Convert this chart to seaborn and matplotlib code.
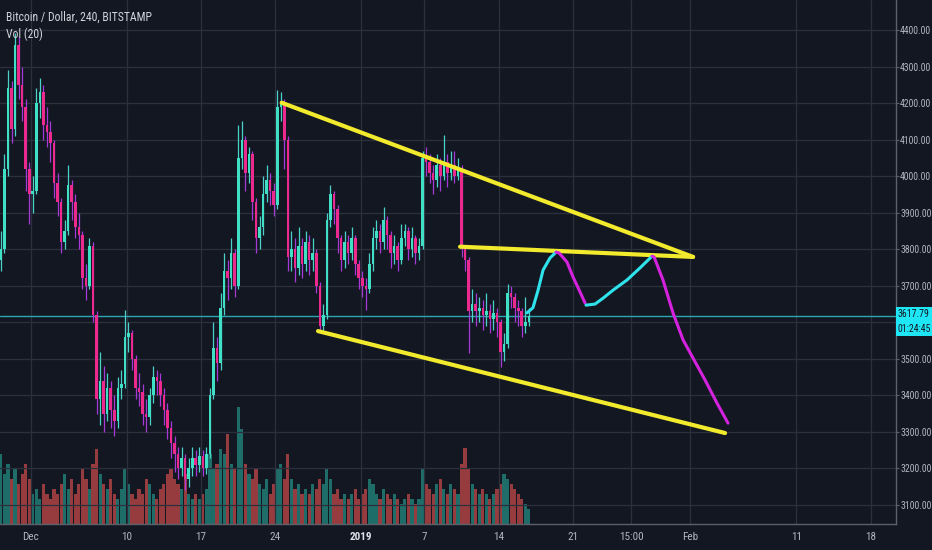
import numpy as np
import pandas as pd
import matplotlib
matplotlib.use("Agg")
import matplotlib.pyplot as plt
import matplotlib.font_manager as fm
import seaborn as sns

# ---------------- data (8h candles, BITSTAMP BTC/USD) ----------------
first_open = 3770
closes = [3800, 4020, 4240, 4130, 4360, 4250, 4190, 4020, 3950, 3960,
          4200, 4230, 4140, 4120, 4090, 3980, 3930, 3820, 3850, 3975,
          3930, 3860, 3840, 3720, 3700, 3810, 3620, 3390, 3440, 3350,
          3420, 3360, 3330, 3420, 3430, 3560, 3570, 3500, 3420, 3410,
          3350, 3340, 3400, 3450, 3440, 3400, 3360, 3310, 3270, 3240,
          3200, 3230, 3170, 3200, 3230, 3210, 3235, 3200, 3240, 3400,
          3530, 3490, 3640, 3740, 3720, 3790, 3700, 4050, 4100, 4010,
          4060, 3930, 3830, 3860, 3950, 3990, 3960, 3920, 4190, 4200,
          4100, 3780, 3800, 3750, 3810, 3760, 3820, 3770, 3790, 3700,
          3590, 3620, 3880, 3950, 3910, 3830, 3770, 3820, 3790, 3830,
          3760, 3720, 3700, 3690, 3760, 3830, 3850, 3820, 3880, 3840,
          3790, 3810, 3770, 3830, 3850, 3800, 3830, 3790, 3810, 4050,
          4040, 4010, 3990, 4030, 4000, 4040, 4010, 4030, 4000, 4020,
          3800, 3770, 3630, 3650, 3630, 3640, 3620, 3630, 3610, 3625,
          3600, 3520, 3540, 3680, 3670, 3640, 3630, 3590, 3600, 3617.79]
highs = [3850, 4060, 4290, 4260, 4392, 4380, 4300, 4210, 4040, 4000,
         4240, 4270, 4250, 4190, 4150, 4100, 4010, 3940, 3880, 4030,
         3990, 3950, 3900, 3850, 3760, 3830, 3820, 3630, 3520, 3480,
         3460, 3440, 3400, 3450, 3470, 3634, 3600, 3580, 3510, 3460,
         3430, 3390, 3420, 3480, 3470, 3460, 3420, 3380, 3330, 3290,
         3260, 3260, 3240, 3230, 3260, 3250, 3260, 3250, 3260, 3420,
         3600, 3560, 3680, 3790, 3770, 3830, 3800, 4140, 4150, 4110,
         4080, 4070, 3940, 3890, 4000, 4030, 4010, 3980, 4236, 4230,
         4210, 4110, 3850, 3830, 3860, 3830, 3850, 3840, 3830, 3800,
         3710, 3650, 3900, 3975, 3960, 3920, 3840, 3850, 3840, 3860,
         3840, 3770, 3740, 3720, 3790, 3860, 3880, 3870, 3916, 3890,
         3850, 3840, 3820, 3870, 3870, 3860, 3860, 3840, 3830, 4070,
         4080, 4060, 4030, 4060, 4050, 4113, 4060, 4070, 4070, 4050,
         4030, 3810, 3780, 3690, 3680, 3670, 3660, 3680, 3650, 3660,
         3640, 3610, 3570, 3705, 3700, 3680, 3660, 3640, 3669, 3640]
lows = [3740, 3790, 4000, 4090, 4110, 4210, 4150, 3960, 3870, 3900,
        3950, 4160, 4100, 4080, 4040, 3940, 3890, 3790, 3800, 3840,
        3880, 3830, 3800, 3690, 3660, 3690, 3600, 3350, 3320, 3300,
        3330, 3310, 3290, 3310, 3390, 3420, 3520, 3470, 3390, 3370,
        3320, 3300, 3320, 3380, 3400, 3370, 3320, 3280, 3230, 3190,
        3170, 3180, 3141, 3150, 3180, 3180, 3190, 3180, 3185, 3230,
        3390, 3440, 3470, 3620, 3660, 3690, 3670, 3690, 4020, 3960,
        3980, 3880, 3790, 3800, 3840, 3930, 3920, 3890, 3910, 4150,
        4020, 3740, 3740, 3710, 3730, 3720, 3740, 3730, 3740, 3680,
        3570, 3575, 3610, 3860, 3870, 3790, 3740, 3750, 3760, 3770,
        3730, 3690, 3670, 3634, 3680, 3740, 3800, 3790, 3800, 3800,
        3750, 3760, 3740, 3760, 3810, 3770, 3780, 3760, 3770, 3800,
        4000, 3980, 3950, 3970, 3960, 3990, 3970, 3990, 3980, 3990,
        3780, 3740, 3516, 3600, 3590, 3600, 3580, 3590, 3570, 3580,
        3560, 3478, 3495, 3530, 3640, 3600, 3590, 3560, 3570, 3590]
volumes = [70, 50, 60, 45, 55, 40, 50, 60, 45,
           30, 35, 25, 40, 30, 25, 35, 30,
           40, 50, 35, 45, 30, 40, 55, 45, 35, 60, 75,
           50, 40, 35, 45, 30, 25, 35, 55, 40, 30, 25, 35, 30,
           45, 40, 30, 25, 35, 40, 50, 55, 45, 40,
           35, 50, 30, 25, 30, 25, 30, 35,
           70, 55, 60, 75, 70, 90, 60, 55,
           117, 95, 60, 50,
           45, 55, 40, 35, 45, 30, 40, 55, 60, 45,
           70, 45, 35, 40, 30, 35, 30, 40, 35, 45, 40,
           55, 45, 30, 35, 25, 30, 25, 30, 35, 25,
           30, 35, 45, 40, 30, 25, 35, 30, 25, 30, 25, 20, 25, 30, 25, 20, 25,
           55, 40, 35, 30, 40, 45, 35, 30, 40, 35, 30,
           60, 76, 55,
           40, 35, 30, 35, 30, 25, 30, 35, 40, 50, 45, 40, 35, 30, 25, 20, 15]

# drawn lines (x = days since 2018-12-01)
upper_x, upper_y = [23.58, 62.28], [4201, 3779]
mid_x, mid_y = [40.36, 62.28], [3807, 3779]
lower_x, lower_y = [27.0, 65.29], [3576, 3297]
cyan1_x = [46.66, 47.22, 47.70, 48.17, 48.82, 49.39]
cyan1_y = [3626, 3640, 3688, 3743, 3776, 3792]
mag1_x = [49.39, 49.67, 50.42, 50.99, 51.65, 52.12]
mag1_y = [3792, 3790, 3765, 3724, 3683, 3653]
cyan2_x = [52.21, 53.06, 53.81, 54.75, 56.07, 57.29, 58.42]
cyan2_y = [3647, 3650, 3666, 3688, 3716, 3749, 3781]
mag2_x = [58.42, 58.61, 59.45, 60.40, 61.34, 62.28, 63.41, 64.53, 65.57]
mag2_y = [3781, 3779, 3716, 3625, 3552, 3502, 3442, 3379, 3324]

tick_days = [0, 9, 16, 23, 31, 37, 44, 51, 56.45, 62, 72, 79]
tick_labels = ["Dec", "10", "17", "24", "2019", "7", "14", "21", "15:00", "Feb", "11", "18"]
price_ticks = list(range(3100, 4500, 100))
last_price = 3617.79
countdown = "01:24:45"

# ---------------- style ----------------
BG = "#131722"
GRID = "#2c303c"
TXT = "#b2b5be"
UP, DOWN = "#3fe0c5", "#ec2a8e"
UPW, DOWNW = "#4ad2c8", "#a63ad8"
VUP, VDOWN = "#1f6d69", "#963c3e"

sns.set_theme(style="dark", rc={"axes.facecolor": BG, "figure.facecolor": BG})
names = {f.name for f in fm.fontManager.ttflist}
NARROW = None
for cand in ["Liberation Sans Narrow", "Roboto Condensed", "Open Sans Condensed"]:
    if cand in names:
        NARROW = cand
        break
FONT = NARROW if NARROW else "Liberation Sans"
plt.rcParams["font.family"] = [FONT, "DejaVu Sans"]
AX_FS = 7.0 if NARROW else 6.6
TITLE_FS = 8.5 if NARROW else 7.6

fig = plt.figure(figsize=(9.32, 5.5), dpi=100, facecolor=BG)
ax = fig.add_axes([0, 26 / 550, 896 / 932, 524 / 550])
ax2 = ax.twinx()
ax.set_zorder(2)
ax2.set_zorder(1)
ax.patch.set_visible(False)
ax2.patch.set_facecolor(BG)

times = pd.date_range("2018-11-28", periods=len(closes), freq="8h") + pd.Timedelta(hours=4)
xd = ((times - pd.Timestamp("2018-12-01")) / pd.Timedelta(days=1)).to_numpy()
c = np.array(closes, float)
o = np.concatenate([[first_open], c[:-1]])
h = np.array(highs, float)
l = np.array(lows, float)
up = c >= o

# volume
ax2.bar(xd, volumes, width=0.3, color=np.where(up, VUP, VDOWN), linewidth=0)
ax2.set_ylim(0, 524)
ax2.set_yticks([])
for s in ax2.spines.values():
    s.set_visible(False)

# candles
ax.vlines(xd, l, h, colors=np.where(up, UPW, DOWNW), linewidth=0.9, zorder=3)
body_bottom = np.minimum(o, c)
body_h = np.maximum(np.abs(c - o), 4)
ax.bar(xd, body_h, bottom=body_bottom, width=0.24, color=np.where(up, UP, DOWN),
       linewidth=0, zorder=4)

# current price line
ax.axhline(last_price, color="#2aa7b3", lw=1.0, zorder=2.5)

# drawings
YEL = "#f2ea2c"
for xs, ys in [(upper_x, upper_y), (mid_x, mid_y), (lower_x, lower_y)]:
    sns.lineplot(x=xs, y=ys, ax=ax, color=YEL, lw=3.0, sort=False, estimator=None, zorder=6)
for xs, ys, col in [(cyan1_x, cyan1_y, "#2ee3ec"), (mag1_x, mag1_y, "#d522de"),
                    (cyan2_x, cyan2_y, "#2ee3ec"), (mag2_x, mag2_y, "#d522de")]:
    sns.lineplot(x=xs, y=ys, ax=ax, color=col, lw=2.2, sort=False, estimator=None, zorder=7)
for line in ax.lines:
    line.set_solid_capstyle("round")
    line.set_solid_joinstyle("round")

# axes
ax.set_xlim(-2.916, 81.37)
ax.set_ylim(3048.1, 4482.1)
ax.set_xticks(tick_days)
ax.set_xticklabels(tick_labels)
ax.set_yticks(price_ticks)
ax.set_yticklabels(["" if p == 3600 else f"{p:.2f}" for p in price_ticks])
ax.yaxis.tick_right()
ax.tick_params(axis="x", colors="#5d606b", labelcolor=TXT, labelsize=8,
               length=3, width=0.8, direction="out", pad=3)
ax.tick_params(axis="y", colors="#5d606b", labelcolor=TXT, labelsize=AX_FS,
               length=2, width=0.8, direction="out", pad=1.0)
for lab in ax.get_xticklabels():
    if lab.get_text() == "2019":
        lab.set_fontweight("bold")
        lab.set_color("#e0e3eb")
ax.grid(True, color=GRID, lw=0.9)
ax.set_xlabel("")
ax.set_ylabel("")
for k, s in ax.spines.items():
    s.set_visible(k in ("right", "bottom"))
    s.set_color("#5d606b")
    s.set_linewidth(1.0)

# price label box
ax.annotate(f"{last_price:.2f}\n{countdown}", xy=(1.0, last_price),
            xycoords=ax.get_yaxis_transform(), xytext=(2, 7), textcoords="offset pixels",
            ha="left", va="top", fontsize=AX_FS, color="#131722", linespacing=1.7,
            bbox=dict(boxstyle="square,pad=0.2", fc="#1fe6f5", ec="none"),
            annotation_clip=False, zorder=10)

fig.text(6 / 932, 1 - 17 / 550, "Bitcoin / Dollar, 240, BITSTAMP", color="#d1d4dc",
         fontsize=TITLE_FS, va="center", ha="left")
fig.text(6 / 932, 1 - 34 / 550, "Vol (20)", color="#d1d4dc", fontsize=TITLE_FS,
         va="center", ha="left")

fig.savefig("out.png", dpi=100, facecolor=BG)
